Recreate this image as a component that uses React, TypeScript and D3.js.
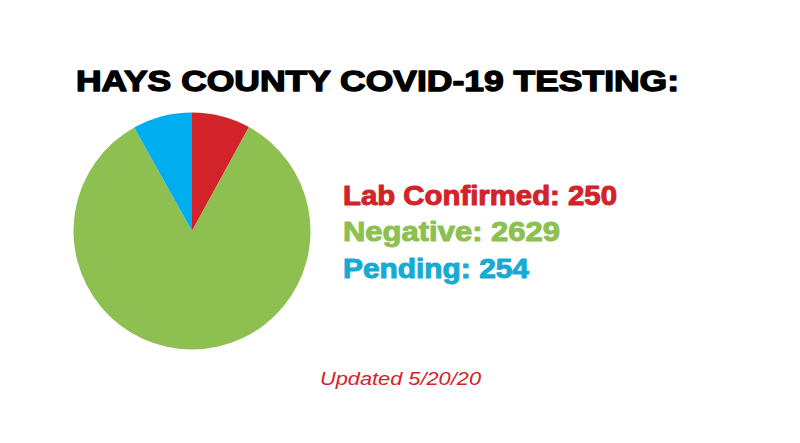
import React from "react";
import * as d3 from "d3";

const categories = ["Lab Confirmed", "Negative", "Pending"];
const values = [250, 2629, 254];
const sliceColors = ["#d2232a", "#8dc051", "#00aeef"];
const textColors = ["#d2232a", "#8cc152", "#17aad3"];
const title = "HAYS COUNTY COVID-19 TESTING:";
const updated = "Updated 5/20/20";

export default function App() {
  const W = 800, H = 443;
  const cx = 192, cy = 231, r = 118.5;
  const pie = d3.pie<number>().sort(null).value((d) => d);
  const arcs = pie(values);
  const arcGen = d3.arc<d3.PieArcDatum<number>>().innerRadius(0).outerRadius(r);
  const legendX = 343;
  const legendY = d3.scalePoint<string>().domain(categories).range([204.5, 277.5]);
  const legendWidths = [274, 217, 186];
  return (
    <svg width={W} height={H} style={{ position: "absolute", left: 0, top: 0, background: "#fff" }}>
      <rect width={W} height={H} fill="#fff" />
      <text x={76} y={91} fontFamily="Liberation Sans, Arial, sans-serif" fontWeight={700} fontSize={30}
        fill="#000" stroke="#000" strokeWidth={1.4} strokeLinejoin="round"
        textLength={603} lengthAdjust="spacingAndGlyphs">{title}</text>
      <g transform={`translate(${cx},${cy})`}>
        {arcs.map((a, i) => (
          <path key={i} d={arcGen(a) || ""} fill={sliceColors[i]} />
        ))}
      </g>
      {categories.map((c, i) => (
        <text key={c} x={legendX} y={legendY(c)} fontFamily="Liberation Sans, Arial, sans-serif" fontWeight={700}
          fontSize={27} fill={textColors[i]} stroke={textColors[i]} strokeWidth={1} strokeLinejoin="round"
          textLength={legendWidths[i]} lengthAdjust="spacingAndGlyphs">
          {`${c}: ${values[i]}`}
        </text>
      ))}
      <text x={320} y={385} fontFamily="Liberation Sans, Arial, sans-serif" fontStyle="italic" fontSize={18}
        fill="#d2232a" textLength={161} lengthAdjust="spacingAndGlyphs">{updated}</text>
    </svg>
  );
}
